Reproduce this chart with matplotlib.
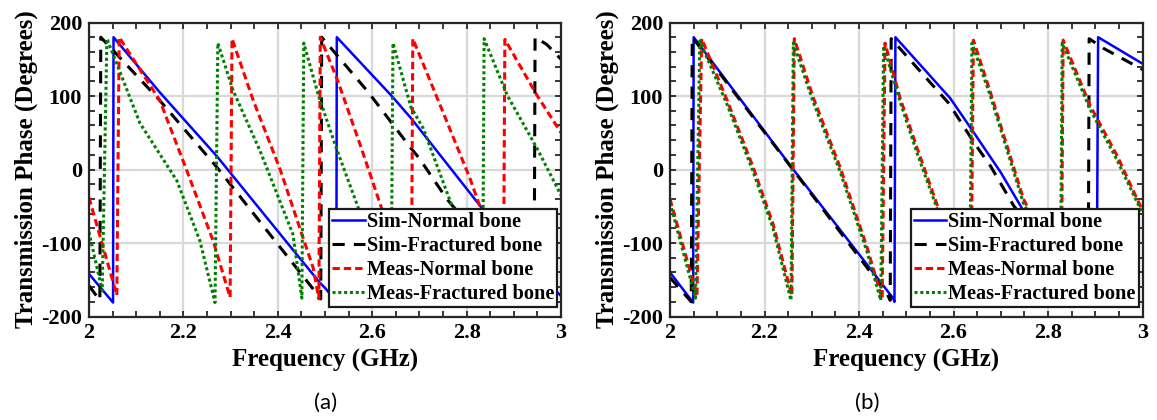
import matplotlib
matplotlib.use('Agg')
import matplotlib.pyplot as plt
from matplotlib.ticker import MultipleLocator

# ---- data (frequency in GHz, phase in degrees) ----
# panel (a)
a_sim_normal_f = [2.000, 2.051, 2.052, 2.150, 2.271, 2.447, 2.489, 2.500, 2.524, 2.525, 2.640, 2.682, 2.833, 2.900, 3.000]
a_sim_normal_p = [-142, -181, 180, 105, 18, -121, -154, -161, -180, 180, 101, 70, -53, -110, -172]

a_sim_frac_f = [2.000, 2.023, 2.025, 2.150, 2.271, 2.489, 2.491, 2.493, 2.592, 2.682, 2.700, 2.758, 2.850, 2.943, 2.945, 2.970, 3.000]
a_sim_frac_p = [-158, -178, 180, 94, 3, -174, -176, 180, 105, 29, 15, -40, -110, -180, 180, 170, 150]

a_meas_normal_f = [2.000, 2.059, 2.064, 2.150, 2.207, 2.263, 2.299, 2.303, 2.348, 2.405, 2.475, 2.487, 2.490, 2.528, 2.577, 2.620,
                   2.683, 2.686, 2.750, 2.807, 2.833, 2.878, 2.881, 2.949, 3.000]
a_meas_normal_p = [-38, -171, 180, 94, -1, -97, -174, 178, 94, 0, -134, -176, 180, 119, 29, -53,
                   -175, 178, 78, -12, -59, -172, 177, 101, 50]

a_meas_frac_f = [2.000, 2.028, 2.038, 2.108, 2.186, 2.235, 2.267, 2.273, 2.305, 2.362, 2.432, 2.451, 2.455, 2.486, 2.524, 2.571,
                 2.640, 2.644, 2.682, 2.708, 2.771, 2.834, 2.837, 2.886, 2.949, 3.000]
a_meas_frac_p = [-85, -165, 178, 63, -15, -97, -181, 172, 108, 26, -88, -175, 172, 101, 29, -53,
                 -175, 172, 85, 56, -53, -175, 178, 101, 29, -35]

# panel (b)
b_sim_normal_f = [2.000, 2.049, 2.050, 2.261, 2.472, 2.475, 2.477, 2.593, 2.640, 2.700, 2.745, 2.903, 2.906, 3.000]
b_sim_normal_p = [-140, -181, 180, 0, -175, -180, 180, 97, 53, -4, -53, -180, 180, 144]

b_sim_frac_f = [2.000, 2.045, 2.047, 2.260, 2.460, 2.466, 2.468, 2.590, 2.645, 2.678, 2.727, 2.885, 2.887, 2.917, 3.000]
b_sim_frac_p = [-147, -180, 180, 0, -170, -178, 178, 90, 35, 5, -49, -180, 178, 165, 136]

b_meas_normal_f = [2.000, 2.057, 2.067, 2.121, 2.176, 2.218, 2.258, 2.263, 2.303, 2.360, 2.417, 2.449, 2.455, 2.487, 2.523, 2.568,
                   2.637, 2.642, 2.678, 2.748, 2.758, 2.828, 2.832, 2.889, 2.946, 3.000]
b_meas_normal_p = [-40, -172, 178, 94, 3, -74, -172, 178, 98, 3, -106, -176, 172, 97, 29, -53,
                   -176, 176, 105, -40, -53, -176, 176, 87, 19, -56]

b_meas_frac_f = [2.000, 2.054, 2.063, 2.121, 2.176, 2.218, 2.256, 2.261, 2.303, 2.360, 2.417, 2.446, 2.452, 2.487, 2.523, 2.568,
                 2.634, 2.639, 2.678, 2.748, 2.758, 2.826, 2.830, 2.889, 2.946, 3.000]
b_meas_frac_p = [-45, -175, 175, 88, -3, -80, -178, 172, 92, -3, -112, -178, 168, 92, 22, -58,
                 -178, 172, 100, -46, -58, -178, 172, 82, 13, -60]

labels = ['Sim-Normal bone', 'Sim-Fractured bone', 'Meas-Normal bone', 'Meas-Fractured bone']
x_ticks = [2, 2.2, 2.4, 2.6, 2.8, 3]
x_ticklabels = ['2', '2.2', '2.4', '2.6', '2.8', '3']
y_ticks = [-200, -100, 0, 100, 200]

panels = [
    ('(a)', [a_sim_normal_f, a_sim_frac_f, a_meas_normal_f, a_meas_frac_f],
            [a_sim_normal_p, a_sim_frac_p, a_meas_normal_p, a_meas_frac_p]),
    ('(b)', [b_sim_normal_f, b_sim_frac_f, b_meas_normal_f, b_meas_frac_f],
            [b_sim_normal_p, b_sim_frac_p, b_meas_normal_p, b_meas_frac_p]),
]

# ---- style ----
plt.rcParams['font.family'] = 'Liberation Serif'
plt.rcParams['font.weight'] = 'bold'
plt.rcParams['axes.unicode_minus'] = False

styles = [
    dict(color='#0000ff', lw=1.8, linestyle='-'),
    dict(color='black', lw=2.2, dashes=(4, 3)),
    dict(color='#ff0000', lw=2.2, dashes=(2.4, 1.3)),
    dict(color='#008000', lw=2.2, dashes=(1, 0.9)),
]

fig = plt.figure(figsize=(11.57, 4.2), dpi=100)
positions = [[0.0769, 0.2464, 0.408, 0.700], [0.5791, 0.2464, 0.4084, 0.700]]
captions_x = [326 / 1157, 867 / 1157]

for i, (cap, fs, ps) in enumerate(panels):
    ax = fig.add_axes(positions[i])
    for f, p, st, lab in zip(fs, ps, styles, labels):
        ax.plot(f, p, label=lab, **st)
    ax.set_xlim(2, 3)
    ax.set_ylim(-200, 200)
    ax.set_xticks(x_ticks)
    ax.set_xticklabels(x_ticklabels)
    ax.set_yticks(y_ticks)
    ax.xaxis.set_minor_locator(MultipleLocator(0.05))
    ax.yaxis.set_minor_locator(MultipleLocator(20))
    ax.tick_params(which='both', direction='in', top=True, right=True,
                   length=4, width=1.3, color='#262626')
    ax.tick_params(which='major', labelsize=16, pad=5)
    ax.grid(True, which='major', color='#d9d9d9', lw=1.6)
    ax.set_axisbelow(True)
    for s in ax.spines.values():
        s.set_linewidth(1.6)
        s.set_color('#262626')
    ax.set_xlabel('Frequency (GHz)', fontsize=18, fontweight='bold', labelpad=4)
    ax.set_ylabel('Transmission Phase (Degrees)', fontsize=18, fontweight='bold', labelpad=2)
    leg = ax.legend(loc='lower right', bbox_to_anchor=(0.992, 0.032), borderaxespad=0,
                    prop={'weight': 'bold', 'size': 14.6}, frameon=True, fancybox=False,
                    edgecolor='#1a1a1a', framealpha=1, labelspacing=0.2, borderpad=0.15,
                    handlelength=1.6, handletextpad=0.1)
    leg.get_frame().set_linewidth(1.6)
    fig.text(captions_x[i], 1 - 403 / 420, cap, ha='center', va='center',
             fontsize=16, family='Lato', fontweight='normal')

fig.savefig('out.png', dpi=100)
